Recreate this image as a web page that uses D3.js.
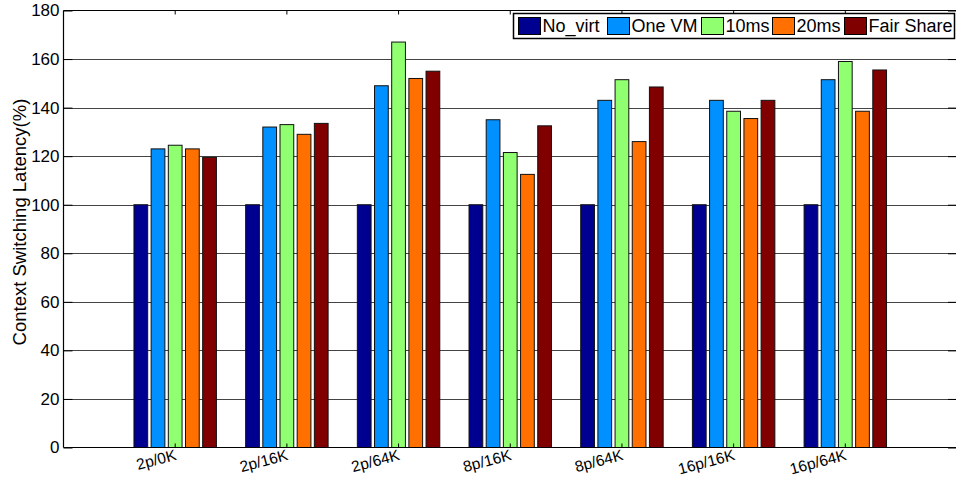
<!DOCTYPE html>
<html>
<head>
<meta charset="utf-8">
<script src="https://cdn.jsdelivr.net/npm/d3@7"></script>
<style>
  html, body { margin: 0; padding: 0; background: #fff; }
  svg { display: block; font-family: "Liberation Sans", Arial, Helvetica, sans-serif; }
</style>
</head>
<body>
<svg id="chart" width="956" height="478"></svg>
<script>
// Workload configurations (processes / working set size)
const categories = ["2p/0K", "2p/16K", "2p/64K", "8p/16K", "8p/64K", "16p/16K", "16p/64K"];

// Series names, as shown in the legend
const seriesNames = ["No_virt", "One VM", "10ms", "20ms", "Fair Share"];

// Context switching latency relative to native (%)
const noVirt    = [100, 100, 100, 100, 100, 100, 100];
const oneVM     = [123, 132, 149, 135, 143, 143, 151.5];
const slice10ms = [124.5, 133, 167, 121.5, 151.5, 138.5, 159];
const slice20ms = [123, 129, 152, 112.5, 126, 135.5, 138.5];
const fairShare = [119.5, 133.5, 155, 132.5, 148.5, 143, 155.5];

const yTicks = [0, 20, 40, 60, 80, 100, 120, 140, 160, 180];

const seriesValues = [noVirt, oneVM, slice10ms, slice20ms, fairShare];
const colors = ["#000090", "#0090ff", "#90ff70", "#ff7000", "#800000"];

const svg = d3.select("#chart");
const margin = { left: 63.5, right: 957, top: 10.5, bottom: 447.5 };

const y = d3.scaleLinear().domain([0, 180]).range([margin.bottom, margin.top]);

const x0 = d3.scaleBand()
  .domain(categories)
  .range([margin.left, margin.right])
  .paddingInner(0)
  .paddingOuter(0.5);

const step = x0.bandwidth();
const groupWidth = step * 0.769;
const x1 = d3.scaleBand()
  .domain(seriesNames)
  .range([-groupWidth / 2, groupWidth / 2])
  .paddingInner(0.2)
  .paddingOuter(0.1);

// Horizontal grid lines
svg.append("g")
  .selectAll("line")
  .data(yTicks.filter(d => d > 0 && d < 180))
  .join("line")
  .attr("x1", margin.left)
  .attr("x2", margin.right)
  .attr("y1", d => Math.round(y(d)) + 0.5)
  .attr("y2", d => Math.round(y(d)) + 0.5)
  .attr("stroke", "#444")
  .attr("stroke-width", 1);

// Bars
const groups = svg.append("g")
  .selectAll("g")
  .data(categories)
  .join("g")
  .attr("transform", d => `translate(${x0(d) + step / 2},0)`);

groups.selectAll("rect")
  .data((c, i) => seriesNames.map((s, k) => ({ s, k, v: seriesValues[k][i] })))
  .join("rect")
  .attr("x", d => x1(d.s))
  .attr("width", x1.bandwidth())
  .attr("y", d => y(d.v))
  .attr("height", d => y(0) - y(d.v))
  .attr("fill", d => colors[d.k])
  .attr("stroke", "#111")
  .attr("stroke-width", 1);

// Axes frame
const frame = svg.append("g").attr("fill", "none").attr("stroke", "#000").attr("stroke-width", 1.2);
frame.append("line").attr("x1", margin.left).attr("x2", margin.left).attr("y1", margin.top).attr("y2", margin.bottom);
frame.append("line").attr("x1", margin.left).attr("x2", margin.right).attr("y1", margin.bottom).attr("y2", margin.bottom);
frame.append("line").attr("x1", margin.left).attr("x2", margin.right).attr("y1", margin.top).attr("y2", margin.top);
frame.append("line").attr("x1", margin.right).attr("x2", margin.right).attr("y1", margin.top).attr("y2", margin.bottom);

// Left y axis (inward ticks)
const yAxis = d3.axisLeft(y).tickValues(yTicks).tickSize(-9).tickPadding(4);
const gy = svg.append("g").attr("transform", `translate(${margin.left},0)`).call(yAxis);
gy.select(".domain").remove();
gy.selectAll(".tick line").attr("stroke", "#000");
gy.selectAll(".tick text")
  .attr("x", -4)
  .attr("font-size", 17)
  .attr("fill", "#000");

// Right y ticks
svg.append("g").attr("transform", `translate(${margin.right},0)`)
  .call(d3.axisRight(y).tickValues(yTicks).tickSize(-9).tickFormat(""))
  .call(g => g.select(".domain").remove())
  .selectAll(".tick line").attr("stroke", "#000");

// Top x ticks
svg.append("g").attr("transform", `translate(0,${margin.top})`)
  .call(d3.axisTop(x0).tickSize(-4).tickFormat(""))
  .call(g => g.select(".domain").remove())
  .selectAll(".tick line").attr("stroke", "#000");

// Bottom x axis with slanted labels
const gx = svg.append("g").attr("transform", `translate(0,${margin.bottom})`)
  .call(d3.axisBottom(x0).tickSize(-4).tickFormat(""));
gx.select(".domain").remove();
gx.selectAll(".tick line").attr("stroke", "#000");

svg.append("g")
  .selectAll("text")
  .data(categories)
  .join("text")
  .attr("transform", d => `translate(${x0(d) + step / 2 + 2},${margin.bottom + 12}) rotate(-15)`)
  .attr("text-anchor", "end")
  .attr("font-size", 15.5)
  .attr("fill", "#000")
  .text(d => d);

// Y axis title
svg.append("text")
  .attr("transform", `translate(26,222) rotate(-90)`)
  .attr("text-anchor", "middle")
  .attr("font-size", 18.5)
  .attr("fill", "#000")
  .text("Context Switching Latency(%)");

// Legend: one swatch + label per series, laid out in a single row
const legendX = [518, 607, 701, 772, 844];
const legend = svg.append("g");
legend.append("rect")
  .attr("x", 513.5).attr("y", 13.5)
  .attr("width", 441).attr("height", 25)
  .attr("fill", "#fff")
  .attr("stroke", "#000")
  .attr("stroke-width", 1.5);

seriesNames.forEach((name, k) => {
  legend.append("rect")
    .attr("x", legendX[k] + 0.5).attr("y", 17.5)
    .attr("width", 22).attr("height", 17)
    .attr("fill", colors[k])
    .attr("stroke", "#000")
    .attr("stroke-width", 1);
  legend.append("text")
    .attr("x", legendX[k] + 24.5)
    .attr("y", 32)
    .attr("font-size", 18)
    .attr("fill", "#000")
    .text(name);
});
</script>
</body>
</html>
